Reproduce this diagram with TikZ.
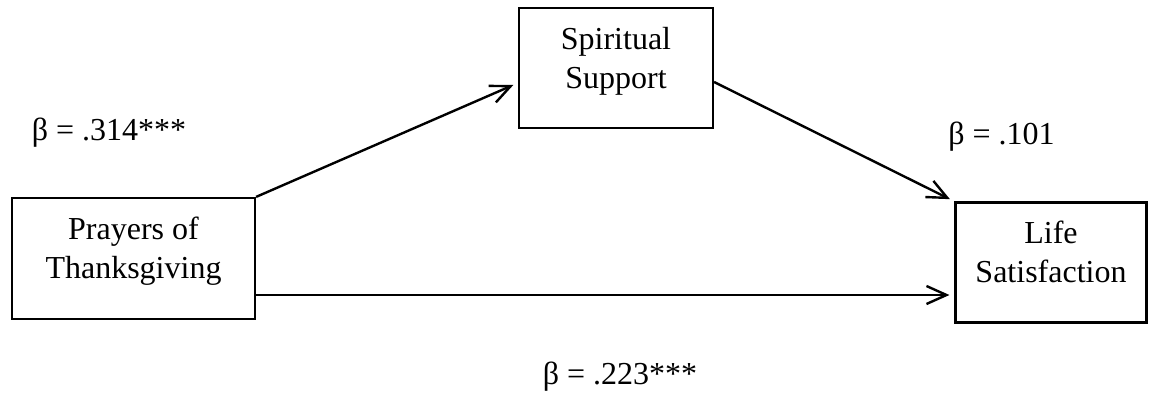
\documentclass[tikz,border=0pt]{standalone}
\usepackage{fontspec}
\setmainfont{Liberation Serif}
\usetikzlibrary{arrows.meta}

\begin{document}
\begin{tikzpicture}[x=0.5pt, y=-0.5pt,
  font=\fontsize{16}{19.5}\selectfont,
  varbox/.style={draw, line width=1.1pt, align=center, inner sep=0pt, text depth=10.5pt},
  coef/.style={inner sep=0pt},
  link/.style={-{Straight Barb[length=10pt, width=9pt]}, line width=1.2pt, shorten >=2.5pt}]
  \useasboundingbox (0,0) rectangle (1149,396);

  \node[varbox, minimum width=121.5pt, minimum height=60.5pt] (prayers) at (133.5, 258.5) {Prayers of\\Thanksgiving};
  \node[varbox, minimum width=97pt, minimum height=60pt] (spirit) at (616, 68) {Spiritual\\Support};
  \node[varbox, minimum width=95.5pt, minimum height=60pt] (life) at (1051, 262.5) {Life\\Satisfaction};

  \node[coef] (b314) at (109, 133) {β = .314***};
  \node[coef] (b101) at (1001.5, 137) {β = .101};
  \node[coef] (b223) at (620, 377) {β = .223***};

  \draw[link] (prayers.north east) -- ([yshift=-7.5pt]spirit.west);
  \draw[link] ([yshift=-7pt]spirit.east) -- (life.north west);
  \draw[link] ([yshift=-18.25pt]prayers.east) -- ([yshift=-18.25pt]prayers.east -| life.west);
\end{tikzpicture}
\end{document}
